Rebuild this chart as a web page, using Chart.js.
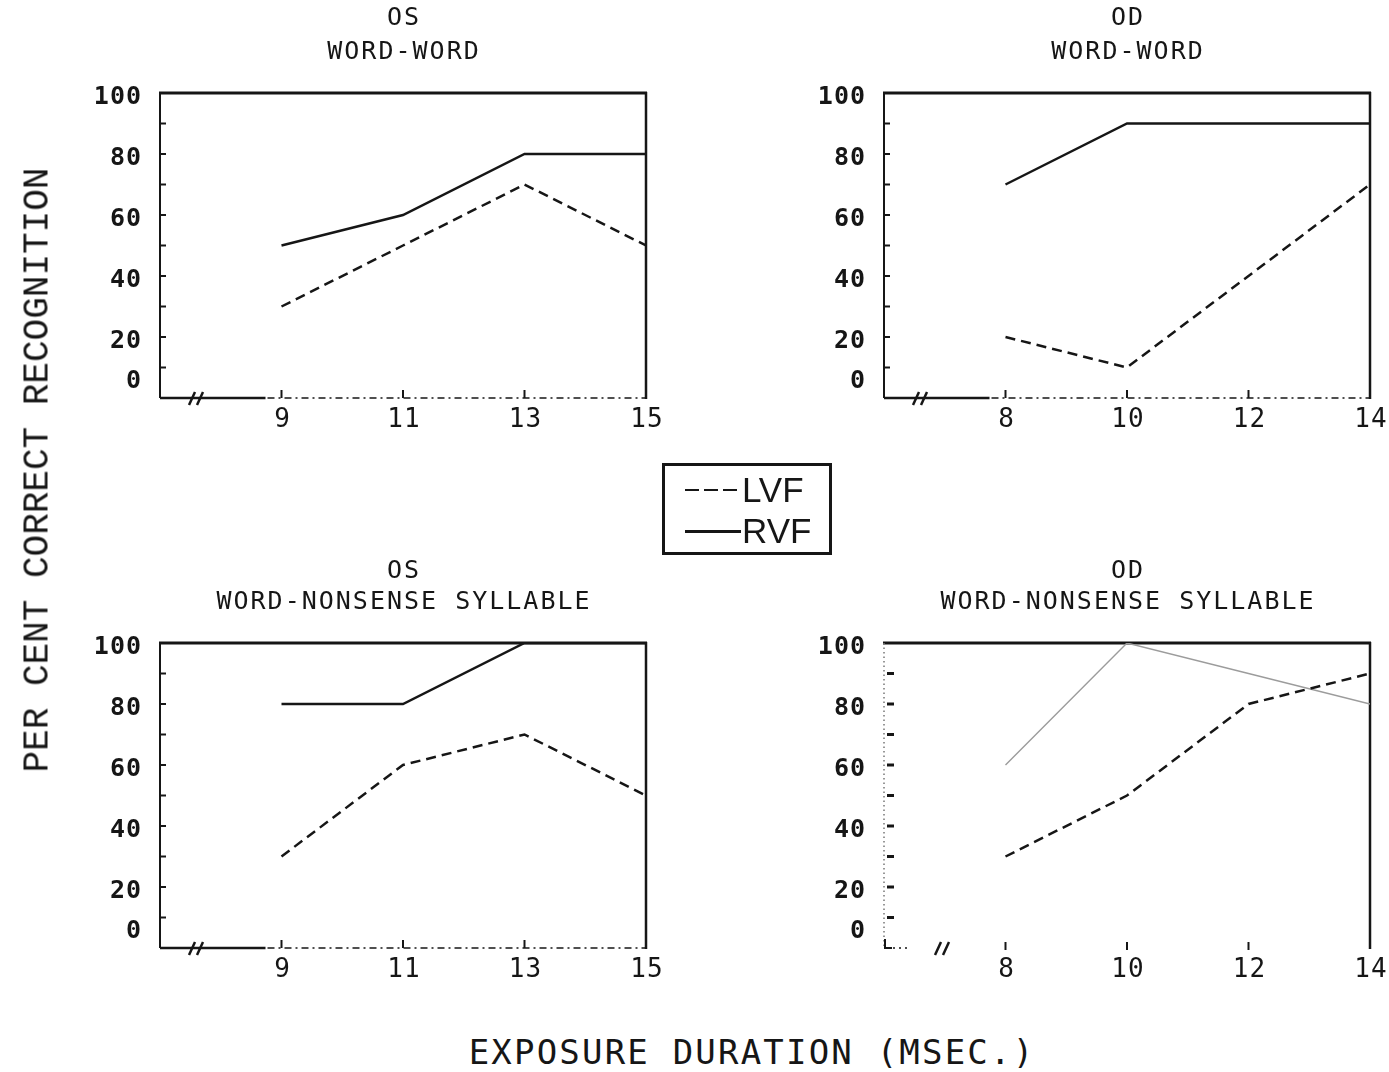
<!DOCTYPE html>
<html>
<head>
<meta charset="utf-8">
<title>Per cent correct recognition</title>
<script src="https://cdn.jsdelivr.net/npm/chart.js@4.4.1/dist/chart.umd.min.js"></script>
<style>
  body { margin: 0; background: #fff; width: 1389px; height: 1072px; overflow: hidden; position: relative; }
  canvas { position: absolute; }
  #yTitle {
    position: absolute; left: 38px; top: 470px;
    transform: translate(-50%, -50%) rotate(-90deg);
    font: 36px "Liberation Mono", monospace; white-space: nowrap; color: #161616;
  }
  #xTitle {
    position: absolute; left: 752px; top: 1052px; transform: translate(-50%, -50%);
    font: 34px "DejaVu Sans Mono", monospace; letter-spacing: 2.2px; white-space: nowrap; color: #161616;
  }
  .legend {
    position: absolute; left: 662px; top: 463px; width: 164px; height: 86px;
    border: 3px solid #161616; font: 35px "Liberation Sans", Arial, sans-serif; color: #161616;
  }
  .legend div { position: absolute; left: 20px; height: 40px; display: flex; align-items: center; }
  .legend span.ln { display: inline-block; width: 56px; margin-right: 1px; }
  .legend span.dash { height: 2px; background: repeating-linear-gradient(90deg, #161616 0 14px, transparent 14px 19px); }
  .legend span.solid { height: 3px; background: #161616; }
</style>
</head>
<body>
<canvas id="osWord" width="660" height="440" style="left:40px;top:0"></canvas>
<canvas id="odWord" width="625" height="440" style="left:764px;top:0"></canvas>
<canvas id="osNons" width="660" height="440" style="left:40px;top:550px"></canvas>
<canvas id="odNons" width="625" height="440" style="left:764px;top:550px"></canvas>

<div id="yTitle">PER CENT CORRECT RECOGNITION</div>
<div id="xTitle">EXPOSURE DURATION (MSEC.)</div>
<div class="legend">
  <div style="top:4px"><span class="ln dash"></span>LVF</div>
  <div style="top:45px"><span class="ln solid"></span>RVF</div>
</div>

<script>
const ink = '#161616';

// exposure durations (msec) used in each eye condition
const osDurations = [9, 11, 13, 15];
const odDurations = [8, 10, 12, 14];
const osTickLabels = ['9', '11', '13', '15'];
const odTickLabels = ['8', '10', '12', '14'];

// per cent correct, word-word
const osWordLVF = [30, 50, 70, 50];
const osWordRVF = [50, 60, 80, 80];
const odWordLVF = [20, 10, 40, 70];
const odWordRVF = [70, 90, 90, 90];

// per cent correct, word-nonsense syllable
const osNonsLVF = [30, 60, 70, 50];
const osNonsRVF = [80, 80, 100, 100];
const odNonsLVF = [30, 50, 80, 90];
const odNonsRVF = [60, 100, 90, 80];

const yTickLabels = [0, 20, 40, 60, 80, 100];
const yTickMarks = [0, 10, 20, 30, 40, 50, 60, 70, 80, 90, 100];

function pts(xs, ys) {
  return xs.map((x, i) => ({ x: x, y: ys[i] }));
}

const plotterAxes = {
  id: 'plotterAxes',
  beforeDatasetsDraw(chart, args, o) {
    const { ctx, chartArea: a, scales: { x, y } } = chart;
    const seg = (x1, y1, x2, y2) => { ctx.beginPath(); ctx.moveTo(x1, y1); ctx.lineTo(x2, y2); ctx.stroke(); };
    ctx.save();
    ctx.strokeStyle = ink;
    ctx.lineWidth = 3;
    seg(a.left - 1, a.top, a.right + 1, a.top);
    ctx.lineWidth = 2.5;
    seg(a.right, a.top - 1, a.right, a.bottom + 1);

    // left axis
    if (o.faint) {
      ctx.lineWidth = 1.5; ctx.setLineDash([1.5, 3]); ctx.strokeStyle = '#777';
    } else {
      ctx.lineWidth = 2;
    }
    seg(a.left, a.top, a.left, a.bottom);
    ctx.setLineDash([]);
    ctx.strokeStyle = ink;

    yTickMarks.forEach(v => {
      const py = y.getPixelForValue(v);
      if (o.faint) {
        if (v === 0 || v === 100) return;
        ctx.lineWidth = 3; seg(a.left + 3, py, a.left + 10, py);
      } else {
        ctx.lineWidth = 2; seg(a.left, py, a.left + 6, py);
      }
    });

    // bottom axis
    const firstPx = x.getPixelForValue(o.xs[0]);
    if (o.faint) {
      ctx.lineWidth = 2;
      seg(a.left + 1, a.bottom - 9, a.left + 1, a.bottom);
      seg(a.left, a.bottom, a.left + 8, a.bottom);
      ctx.setLineDash([2, 4]); ctx.lineWidth = 1.5;
      seg(a.left + 9, a.bottom, a.left + 24, a.bottom);
    } else {
      ctx.lineWidth = 2.5;
      seg(a.left, a.bottom, firstPx - 16, a.bottom);
      ctx.lineWidth = 1.6; ctx.setLineDash([7, 4, 2, 4]);
      seg(firstPx - 14, a.bottom, a.right, a.bottom);
    }
    ctx.setLineDash([]);

    // duration tick marks
    o.xs.forEach(v => {
      const px = x.getPixelForValue(v);
      if (px >= a.right - 2) return;
      ctx.lineWidth = 2;
      if (o.faint) seg(px, a.bottom - 6, px, a.bottom + 2);
      else seg(px, a.bottom, px, a.bottom - 8);
    });

    // axis break
    const bx = a.left + (o.faint ? 58 : 36);
    ctx.lineWidth = 2.5;
    [-4, 4].forEach(d => seg(bx + d - 3, a.bottom + 7, bx + d + 3, a.bottom - 6));
    ctx.restore();
  },
  afterDraw(chart, args, o) {
    const { ctx, chartArea: a, scales: { x, y } } = chart;
    ctx.save();
    ctx.fillStyle = ink;
    ctx.textBaseline = 'middle';

    ctx.font = '25px "DejaVu Sans Mono", monospace';
    ctx.letterSpacing = '2px';
    ctx.textAlign = 'center';
    const cx = (a.left + a.right) / 2 + 1;
    ctx.fillText(o.titles[0], cx, o.titleY[0]);
    ctx.fillText(o.titles[1], cx, o.titleY[1]);

    ctx.font = 'bold 25px "DejaVu Sans Mono", monospace';
    ctx.letterSpacing = '1px';
    ctx.textAlign = 'right';
    yTickLabels.forEach(v => {
      const py = y.getPixelForValue(v);
      ctx.fillText(String(v), a.left - 18, v === 0 ? py - 17 : py + 4);
    });
    ctx.font = '26px "DejaVu Sans Mono", monospace';
    ctx.textAlign = 'center';
    o.xs.forEach((v, i) => {
      ctx.fillText(o.xLabels[i], x.getPixelForValue(v) + 1, a.bottom + 22);
    });
    ctx.restore();
  }
};

function makePanel(id, cfg) {
  const canvas = document.getElementById(id);
  const padRight = canvas.width - 606;
  return new Chart(canvas, {
    type: 'line',
    data: {
      datasets: [
        {
          label: 'LVF',
          data: pts(cfg.xs, cfg.lvf),
          borderColor: ink,
          borderWidth: 2.5,
          borderDash: [10, 6],
          pointRadius: 0,
          tension: 0
        },
        {
          label: 'RVF',
          data: pts(cfg.xs, cfg.rvf),
          borderColor: cfg.faint ? '#9c9c9c' : ink,
          borderWidth: cfg.faint ? 1.4 : 2.5,
          pointRadius: 0,
          tension: 0
        }
      ]
    },
    options: {
      responsive: false,
      animation: false,
      devicePixelRatio: 1,
      layout: { padding: { left: 120, top: 93, right: padRight, bottom: 42 } },
      scales: {
        x: { type: 'linear', min: cfg.xMin, max: cfg.xMax, display: false },
        y: { min: 0, max: 100, display: false }
      },
      plugins: {
        legend: { display: false },
        tooltip: { enabled: false },
        plotterAxes: {
          xs: cfg.xs,
          xLabels: cfg.xLabels,
          titles: cfg.titles,
          titleY: cfg.titleY,
          faint: !!cfg.faint
        }
      }
    },
    plugins: [plotterAxes]
  });
}

makePanel('osWord', { xs: osDurations, xLabels: osTickLabels, lvf: osWordLVF, rvf: osWordRVF,
  xMin: 7, xMax: 15, titles: ['OS', 'WORD-WORD'], titleY: [18, 52] });
makePanel('odWord', { xs: odDurations, xLabels: odTickLabels, lvf: odWordLVF, rvf: odWordRVF,
  xMin: 6, xMax: 14, titles: ['OD', 'WORD-WORD'], titleY: [18, 52] });
makePanel('osNons', { xs: osDurations, xLabels: osTickLabels, lvf: osNonsLVF, rvf: osNonsRVF,
  xMin: 7, xMax: 15, titles: ['OS', 'WORD-NONSENSE SYLLABLE'], titleY: [21, 52] });
makePanel('odNons', { xs: odDurations, xLabels: odTickLabels, lvf: odNonsLVF, rvf: odNonsRVF,
  xMin: 6, xMax: 14, titles: ['OD', 'WORD-NONSENSE SYLLABLE'], titleY: [21, 52], faint: true });
</script>
</body>
</html>
